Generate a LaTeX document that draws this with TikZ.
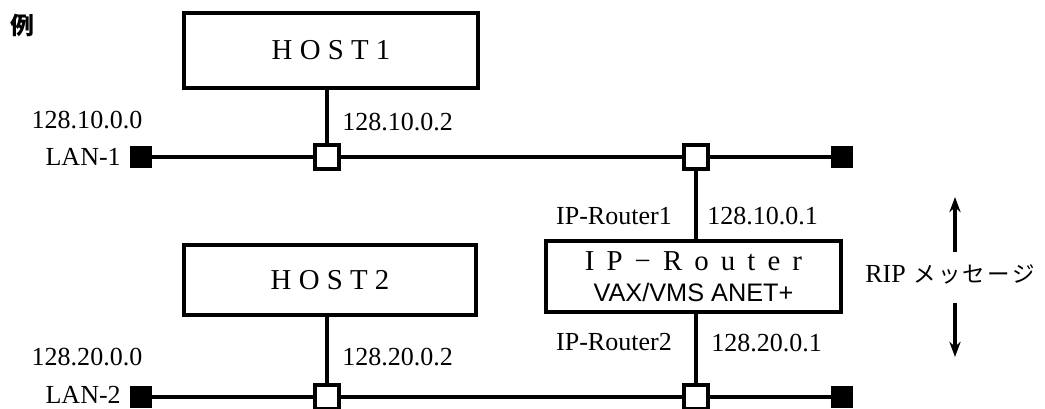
\documentclass[tikz,border=0pt]{standalone}
\usepackage{fontspec}
\setmainfont{Liberation Serif}
\setsansfont{Liberation Sans}
\newfontfamily\jpfont{Noto Sans CJK JP}
\usetikzlibrary{arrows.meta,positioning}
\newcommand{\gp}{\hspace{0.42em}}
\tikzset{
    hostbox/.style={draw, line width=2.9pt, minimum width=#1,
                    minimum height=1.8cm, inner sep=0pt,
                    font=\fontsize{20.5}{24}\selectfont},
    tapbox/.style={draw, fill=white, line width=2.5pt, minimum size=0.6cm,
                   inner sep=0pt},
    endbox/.style={fill=black, minimum size=0.54cm, inner sep=0pt},
    lanline/.style={line width=2.7pt},
    addr/.style={font=\fontsize{18.5}{21}\selectfont, inner sep=0pt},
    ripline/.style={line width=2.7pt, -{Stealth[length=0.38cm, width=0.28cm]}},
}
\begin{document}
\begin{tikzpicture}[x=0.025cm, y=-0.025cm]
    \useasboundingbox (0,0) rectangle (1045,408);
    \node[font=\jpfont\bfseries\fontsize{17}{20}\selectfont] (rei) at (22,25) {例};
    % hosts and router
    \node[hostbox=7.35cm, minimum height=1.87cm] (host1) at (331,50.5) {H O S T 1};
    \node[hostbox=7.3cm, minimum height=1.75cm] (host2) at (330,280) {H O S T 2};
    \node[hostbox=7.38cm, minimum height=1.78cm, align=center] (router) at (693.5,276.5)
        {I\gp P\gp −\gp R\gp o\gp u\gp t\gp e\gp r\\[-2pt]
         {\sffamily\fontsize{18}{20}\selectfont VAX/VMS ANET+}};
    % LAN-1
    \node[endbox] (l1a) at (141,157) {};
    \node[endbox] (l1b) at (842,157) {};
    \node[tapbox] (h1tap) at (327,157) {};
    \node[tapbox] (r1tap) at (696,157) {};
    \draw[lanline] (l1a) -- (h1tap) -- (r1tap) -- (l1b);
    % LAN-2
    \node[endbox] (l2a) at (141,397) {};
    \node[endbox] (l2b) at (842,397) {};
    \node[tapbox] (h2tap) at (327,397) {};
    \node[tapbox] (r2tap) at (696,397) {};
    \draw[lanline] (l2a) -- (h2tap) -- (r2tap) -- (l2b);
    % drops
    \draw[lanline] (host1.south -| h1tap) -- (h1tap);
    \draw[lanline] (host2.south -| h2tap) -- (h2tap);
    \draw[lanline] (r1tap) -- (router.north -| r1tap);
    \draw[lanline] (router.south -| r2tap) -- (r2tap);
    % labels
    \node[addr] (net1) at (87,120) {128.10.0.0};
    \node[addr, anchor=east] (lan1) at (121,157) {LAN-1};
    \node[addr, anchor=west] (h1ip) at (342,122) {128.10.0.2};
    \node[addr] (net2) at (87,357) {128.20.0.0};
    \node[addr, anchor=east] (lan2) at (121,395) {LAN-2};
    \node[addr, anchor=west] (h2ip) at (342,357) {128.20.0.2};
    \node[addr] (rt1) at (614,216) {IP-Router1};
    \node[addr, anchor=west] (rt1ip) at (707,216) {128.10.0.1};
    \node[addr] (rt2) at (614,342) {IP-Router2};
    \node[addr, anchor=west] (rt2ip) at (711,343) {128.20.0.1};
    % RIP
    \node[addr, anchor=west] (rip) at (865,274)
        {RIP {\jpfont\fontsize{16}{18}\selectfont\kern1pt メ\kern1.5pt ッ\kern1.5pt セ\kern1.5pt ー\kern1.5pt ジ}};
    \coordinate (upbot) at (955,252);
    \coordinate (uptop) at (955,197);
    \coordinate (dntop) at (955,303);
    \coordinate (dnbot) at (955,357);
    \draw[ripline] (upbot) -- (uptop);
    \draw[ripline] (dntop) -- (dnbot);
\end{tikzpicture}
\end{document}
